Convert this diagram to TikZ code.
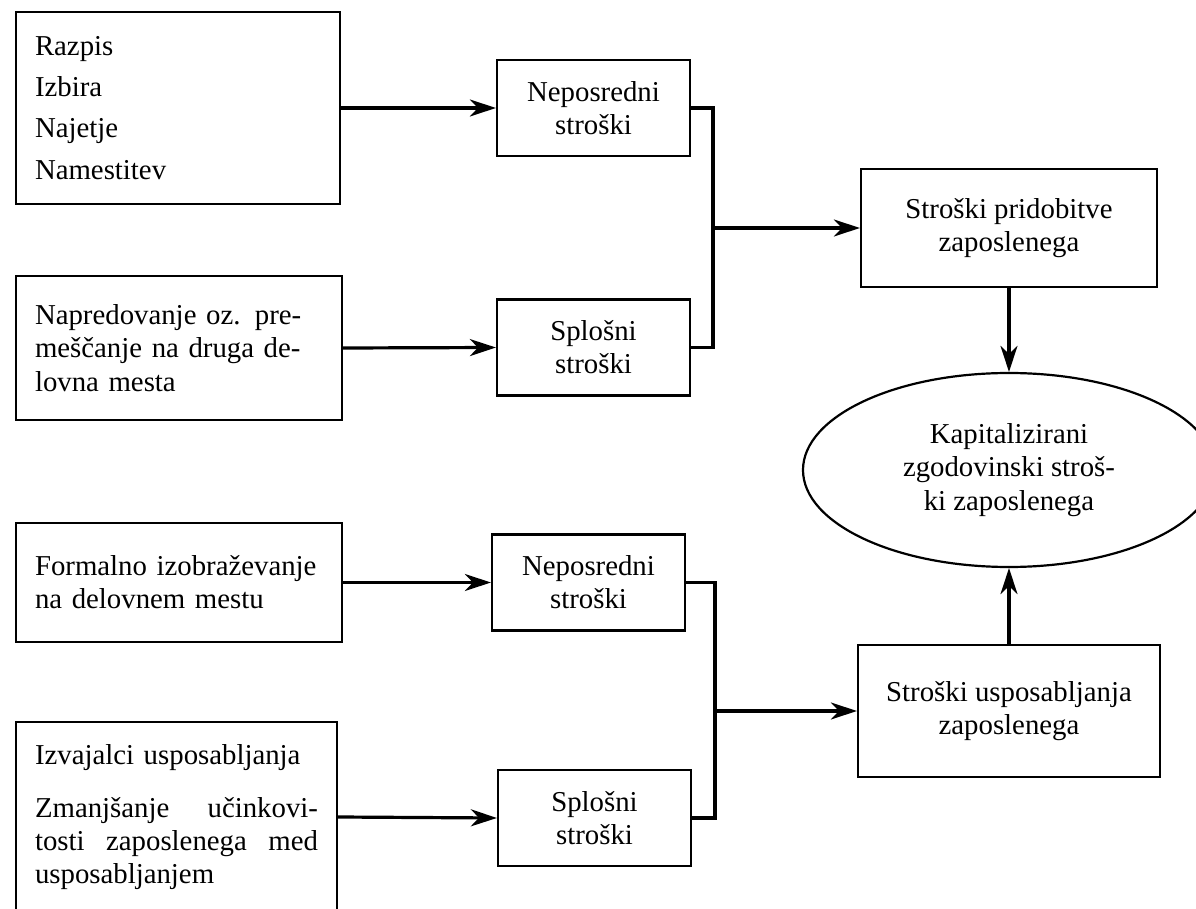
\documentclass[tikz,border=0pt]{standalone}
\usepackage{fontspec}
\setmainfont{Liberation Serif}
\usetikzlibrary{arrows.meta,shapes.geometric}

\begin{document}
\begin{tikzpicture}[x=0.5pt,y=-0.5pt]
\tikzstyle{every node}+=[inner sep=0pt, font=\fontsize{14.4}{16.6}\selectfont]
\tikzstyle{box}=[draw, line width=1.1pt, align=center, minimum width=96.5pt, minimum height=48pt]
\tikzstyle{srcbox}=[draw, line width=1.1pt, align=left, inner xsep=9.5pt]
\tikzstyle{sumbox}=[draw, line width=1.1pt, align=center]
\tikzstyle{link}=[line width=1.6pt]
\tikzstyle{arr}=[link, -{Stealth[length=13pt,width=8.5pt,inset=4pt]}]
\clip (0,0) rectangle (1196,909);
% pridobitev
\node [srcbox, text width=143pt, minimum height=96pt] (razpis) at (178,108) {Razpis\\[4pt]Izbira\\[4pt]Najetje\\[4pt]Namestitev};
\node [srcbox, text width=144pt, minimum height=72pt] (napred) at (179,348) {Napredovanje oz. pre-\\me\v{s}\v{c}anje na druga de-\\lovna mesta};
\node [box] (nepos1) at (593.5,108) {Neposredni\\stro\v{s}ki};
\node [box] (splos1) at (593.5,347.5) {Splo\v{s}ni\\stro\v{s}ki};
\node [sumbox, minimum width=148pt, minimum height=59pt] (pridob) at (1009,228) {Stro\v{s}ki pridobitve\\zaposlenega};
% usposabljanje
\node [srcbox, text width=144pt, minimum height=59.5pt] (formal) at (179,582.5) {Formalno izobra\v{z}evanje\\na delovnem mestu};
\node [srcbox, text width=141.5pt, minimum height=95pt] (izvaj) at (176.5,817) {Izvajalci usposabljanja\\[10pt]Zmanj\v{s}anje\hfill u\v{c}inkovi-\\tosti\hfill zaposlenega\hfill med\\usposabljanjem};
\node [box] (nepos2) at (588.5,582.5) {Neposredni\\stro\v{s}ki};
\node [box] (splos2) at (594.5,818) {Splo\v{s}ni\\stro\v{s}ki};
\node [sumbox, minimum width=151pt, minimum height=66pt] (usposob) at (1009,711) {Stro\v{s}ki usposabljanja\\zaposlenega};
% skupaj
\node [draw, ellipse, line width=1.1pt, minimum width=206pt, minimum height=97pt, align=center] (kapital) at (1009,470) {Kapitalizirani\\zgodovinski stro\v{s}-\\ki zaposlenega};
\coordinate (j1) at (713,228);
\coordinate (j2) at (715,711);
% povezave
\draw [arr] (razpis.east) -- (nepos1.west);
\draw [arr] (napred.east) -- (splos1.west);
\draw [link] (nepos1.east) -| (j1) |- (splos1.east);
\draw [arr] (j1) -- (pridob.west);
\draw [arr] (formal.east) -- (nepos2.west);
\draw [arr] (izvaj.east) -- (splos2.west);
\draw [link] (nepos2.east) -| (j2) |- (splos2.east);
\draw [arr] (j2) -- (usposob.west);
\draw [arr] (pridob.south) -- (kapital.north);
\draw [arr] (usposob.north) -- (kapital.south);
\end{tikzpicture}
\end{document}
